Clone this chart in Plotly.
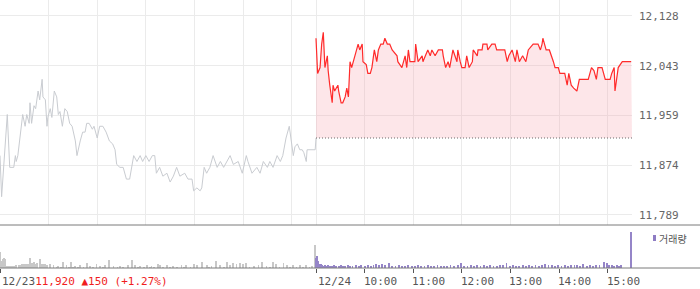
import plotly.graph_objects as go

# ---------------- data ----------------
PREV_CLOSE = 11920
SESSION_MIN = 390  # 09:00 - 15:30

# day 1 (12/23) : minutes after 09:00, price
d1_t = [0, 2, 9, 12, 17, 19, 20, 22, 28, 31,
        33, 36, 37, 39, 42, 44, 47, 49, 52, 53,
        56, 58, 59, 62, 64, 67, 70, 72, 74, 77,
        80, 83, 86, 89, 93, 95, 99, 102, 105, 107,
        110, 114, 116, 120, 123, 127, 131, 135, 139, 142,
        144, 148, 152, 156, 160, 164, 165, 169, 173, 176,
        180, 184, 188, 191, 193, 197, 201, 206, 210, 214,
        218, 222, 228, 232, 237, 239, 243, 247, 249, 252,
        255, 259, 263, 268, 272, 276, 280, 284, 288, 294,
        299, 304, 306, 311, 317, 321, 325, 330, 333, 337,
        342, 346, 349, 353, 357, 359, 362, 364, 367, 370,
        373, 375, 378, 379, 389, 390]
d1_p = [11890, 11820, 11960, 11870, 11870, 11890, 11880, 11890, 11960, 11940,
        11960, 11945, 11980, 11945, 11975, 11970, 12000, 11985, 12020, 11990,
        11985, 11940, 11955, 11970, 11955, 12000, 11990, 11960, 11965, 11940,
        11970, 11965, 11945, 11940, 11915, 11890, 11915, 11930, 11930, 11945,
        11945, 11935, 11940, 11920, 11940, 11940, 11930, 11915, 11910, 11900,
        11875, 11870, 11870, 11850, 11850, 11880, 11890, 11880, 11890, 11880,
        11890, 11880, 11890, 11890, 11860, 11870, 11855, 11860, 11845, 11855,
        11870, 11855, 11860, 11850, 11850, 11830, 11835, 11830, 11835, 11870,
        11860, 11870, 11890, 11870, 11880, 11870, 11880, 11890, 11875, 11880,
        11860, 11890, 11880, 11860, 11870, 11860, 11880, 11870, 11880, 11870,
        11890, 11880, 11890, 11920, 11940, 11920, 11890, 11905, 11910, 11900,
        11900, 11895, 11880, 11900, 11900, 11920]

# day 2 (12/24) : minutes after 09:00, price
d2_t = [0, 2, 5, 7, 9, 11, 14, 15, 17, 20,
        21, 23, 27, 28, 31, 33, 36, 38, 40, 42,
        44, 46, 48, 52, 54, 57, 58, 62, 64, 67,
        69, 72, 75, 77, 80, 83, 85, 88, 91, 94,
        100, 101, 106, 108, 110, 112, 114, 116, 122, 123,
        126, 131, 132, 135, 138, 141, 143, 147, 151, 156,
        157, 160, 163, 165, 169, 174, 175, 178, 180, 184,
        186, 189, 193, 194, 199, 200, 205, 206, 211, 212,
        217, 221, 223, 227, 233, 236, 238, 242, 246, 248,
        251, 255, 259, 262, 268, 274, 277, 279, 280, 284,
        288, 293, 295, 299, 301, 307, 310, 312, 315, 318,
        322, 325, 330, 336, 340, 343, 346, 348, 353, 357,
        363, 365, 368, 369, 372, 373, 378, 389]
d2_p = [12090, 12030, 12040, 12080, 12100, 12040, 12060, 12035, 12010, 11980,
        12010, 12000, 12010, 12000, 11980, 11980, 11990, 12005, 11990, 12050,
        12040, 12050, 12060, 12080, 12070, 12080, 12050, 12045, 12030, 12030,
        12040, 12070, 12050, 12070, 12080, 12080, 12090, 12080, 12080, 12070,
        12060, 12050, 12040, 12050, 12060, 12040, 12070, 12050, 12050, 12080,
        12050, 12060, 12050, 12060, 12070, 12060, 12070, 12060, 12070, 12070,
        12060, 12040, 12050, 12040, 12070, 12050, 12070, 12050, 12040, 12040,
        12060, 12040, 12050, 12070, 12060, 12070, 12070, 12080, 12080, 12070,
        12080, 12080, 12070, 12070, 12070, 12050, 12060, 12070, 12050, 12070,
        12050, 12060, 12050, 12070, 12080, 12080, 12070, 12080, 12090, 12070,
        12070, 12050, 12040, 12040, 12030, 12030, 12010, 12030, 12010, 12005,
        12000, 12020, 12020, 12020, 12040, 12035, 12020, 12040, 12040, 12020,
        12020, 12030, 12040, 12000, 12030, 12040, 12050, 12050]

# volume (thousand shares)
v1_t = [0, 1, 3, 5, 6, 8, 10, 12, 14, 16, 19, 20, 23, 25, 27, 29, 31, 33, 35, 37,
        39, 42, 44, 46, 49, 51, 53, 56, 58, 62, 66, 70, 72, 75, 78, 82, 85, 88, 90, 93,
        96, 99, 103, 107, 111, 115, 119, 123, 127, 130, 135, 140, 145, 148, 152, 158, 163, 167, 170, 173,
        178, 181, 185, 187, 190, 195, 197, 201, 206, 210, 214, 218, 224, 227, 230, 235, 239, 243, 249, 255,
        258, 261, 267, 272, 276, 280, 284, 288, 292, 296, 300, 304, 308, 313, 319, 323, 329, 333, 337, 341,
        345, 350, 354, 358, 362, 366, 370, 374, 378, 382, 385, 389]
v1_v = [16, 7, 9, 10, 9, 2, 2, 2, 2, 2, 2, 3, 3, 3, 4, 4, 4, 4, 4, 10,
        5, 6, 4, 5, 9, 4, 4, 4, 3, 4, 3, 1, 2, 1, 6, 3, 1, 6, 1, 2,
        1, 3, 1, 5, 2, 1, 4, 2, 1, 3, 8, 2, 1, 2, 1, 3, 8, 3, 1, 2,
        1, 3, 1, 2, 1, 4, 3, 1, 3, 1, 2, 1, 3, 1, 3, 1, 4, 3, 6, 3,
        1, 2, 7, 3, 1, 6, 3, 5, 4, 5, 4, 5, 1, 2, 3, 6, 2, 1, 6, 4,
        1, 5, 3, 1, 3, 1, 3, 1, 3, 1, 2, 23]
v2_t = [0, 1, 2, 3, 4, 5, 6, 7, 9, 11, 13, 15, 17, 20, 22, 25, 28, 31, 33, 36,
        39, 42, 45, 49, 53, 56, 60, 64, 68, 71, 74, 78, 81, 85, 90, 94, 98, 102, 106, 110,
        114, 118, 122, 126, 130, 134, 138, 142, 146, 150, 154, 158, 162, 166, 170, 175, 179, 183, 187, 191,
        195, 199, 203, 207, 211, 215, 219, 223, 227, 231, 235, 239, 243, 247, 251, 255, 259, 263, 267, 271,
        275, 279, 283, 287, 291, 295, 299, 303, 307, 311, 315, 319, 322, 326, 330, 334, 338, 342, 346, 350,
        355, 359, 362, 365, 368, 371, 374, 376, 389]
v2_v = [10, 12, 5, 7, 4, 3, 4, 3, 2, 3, 2, 3, 2, 2, 3, 2, 2, 3, 2, 2,
        3, 2, 2, 3, 2, 3, 2, 3, 2, 3, 4, 3, 4, 3, 5, 2, 2, 3, 2, 2,
        3, 2, 2, 3, 2, 2, 3, 2, 2, 3, 2, 2, 2, 3, 2, 3, 5, 2, 2, 3,
        2, 3, 2, 3, 2, 3, 2, 2, 3, 3, 5, 2, 3, 2, 2, 3, 2, 3, 2, 3,
        2, 3, 4, 3, 3, 2, 3, 2, 3, 2, 3, 3, 3, 2, 4, 2, 3, 2, 3, 3,
        6, 5, 3, 3, 2, 3, 2, 3, 36]

y_tickvals = [11789, 11874, 11959, 12043, 12128]
y_ticktext = ["11,789", "11,874", "11,959", "12,043", "12,128"]
time_ticks = [0, 390, 450, 510, 570, 630, 690, 750]
time_labels = ["12/23", "12/24", "10:00", "11:00", "12:00", "13:00", "14:00", "15:00"]
grid_ticks = [0, 60, 120, 180, 240, 300, 360, 390, 450, 510, 570, 630, 690, 750]
status_text = "11,920 ▲150 (+1.27%)"
legend_text = "거래량"

# ---------------- figure ----------------
W, H = 700, 289
ML, MR, MT, MB = 0, 68, 0, 21
PW = W - ML - MR
PH = H - MT - MB
main_bottom = (PH - 225) / PH
vol_top = (PH - 226) / PH

MONO = "DejaVu Sans Mono"

d2_x = [t + SESSION_MIN for t in d2_t]
v2_x = [t + SESSION_MIN for t in v2_t]

fig = go.Figure()
fig.add_trace(go.Scatter(x=d1_t, y=d1_p, mode="lines",
                         line=dict(color="#c9ccd1", width=1), xaxis="x", yaxis="y",
                         hoverinfo="skip"))
fig.add_trace(go.Scatter(x=[SESSION_MIN, 2 * SESSION_MIN], y=[PREV_CLOSE, PREV_CLOSE],
                         mode="lines", line=dict(color="#6a6a6a", width=1, dash="1px,2px"),
                         xaxis="x", yaxis="y", hoverinfo="skip"))
fig.add_trace(go.Scatter(x=d2_x, y=d2_p, mode="lines", fill="tonexty",
                         fillcolor="rgba(247,160,170,0.26)",
                         line=dict(color="#ff2b2b", width=1.2), xaxis="x", yaxis="y",
                         hoverinfo="skip"))
fig.add_trace(go.Bar(x=v1_t, y=v1_v, width=1.0, marker=dict(color="#c8c8c8", line=dict(width=0)),
                     xaxis="x2", yaxis="y2", hoverinfo="skip"))
fig.add_trace(go.Bar(x=v2_x, y=v2_v, width=1.0, marker=dict(color="#9585c8", line=dict(width=0)),
                     xaxis="x2", yaxis="y2", hoverinfo="skip"))

shapes = [
    dict(type="line", xref="paper", yref="paper", x0=0, x1=W / PW, y0=main_bottom, y1=main_bottom,
         line=dict(color="#7a7a7a", width=1)),
    dict(type="line", xref="paper", yref="paper", x0=0, x1=W / PW, y0=0, y1=0,
         line=dict(color="#7a7a7a", width=1)),
    dict(type="rect", xref="paper", yref="paper", x0=653 / PW, x1=656 / PW,
         y0=(PH - 241) / PH, y1=(PH - 235) / PH, fillcolor="#8e7cc3", line=dict(width=0)),
]

annotations = []
for i, (tv, lab) in enumerate(zip(time_ticks, time_labels)):
    txt = lab
    if i == 0:
        txt = lab + "<span style='color:#f01e1e'>" + status_text + "</span>"
    annotations.append(dict(x=tv, xref="x2", y=0, yref="paper", text=txt, showarrow=False,
                            xanchor="left", yanchor="middle", yshift=-13.5,
                            xshift=0 if i < 2 else -3,
                            font=dict(family=MONO, size=11, color="#555555")))
annotations.append(dict(x=657 / PW, xref="paper", y=(PH - 238) / PH, yref="paper", text=legend_text,
                        showarrow=False, xanchor="left", yanchor="middle",
                        font=dict(family="Noto Sans CJK KR", size=10, color="#555555")))

fig.update_layout(
    width=W, height=H, margin=dict(l=ML, r=MR, t=MT, b=MB),
    paper_bgcolor="white", plot_bgcolor="white", showlegend=False, bargap=0,
    xaxis=dict(domain=[0, 1], range=[0, 2 * SESSION_MIN], anchor="y", tickvals=grid_ticks,
               showticklabels=False, ticks="", showgrid=True, gridcolor="#ebebeb", gridwidth=1,
               zeroline=False, showline=False, fixedrange=True),
    yaxis=dict(domain=[main_bottom, 1], range=[11771.8, 12155.1], side="right", anchor="x",
               tickvals=y_tickvals, ticktext=y_ticktext, ticks="", ticklabelstandoff=6,
               showgrid=True, gridcolor="#ebebeb", gridwidth=1, zeroline=False, showline=False,
               tickfont=dict(family=MONO, size=11, color="#666666"), fixedrange=True),
    xaxis2=dict(domain=[0, 1], range=[0, 2 * SESSION_MIN], anchor="y2", tickvals=time_ticks,
                ticks="outside", ticklen=4, tickcolor="#555555", tickwidth=1,
                showticklabels=False, showgrid=False, zeroline=False, showline=False, fixedrange=True),
    yaxis2=dict(domain=[0, vol_top], range=[0, 42], showgrid=False, showticklabels=False,
                zeroline=False, showline=False, ticks="", fixedrange=True),
    shapes=shapes, annotations=annotations,
)

fig.write_html("out.html", config={"displayModeBar": False})
